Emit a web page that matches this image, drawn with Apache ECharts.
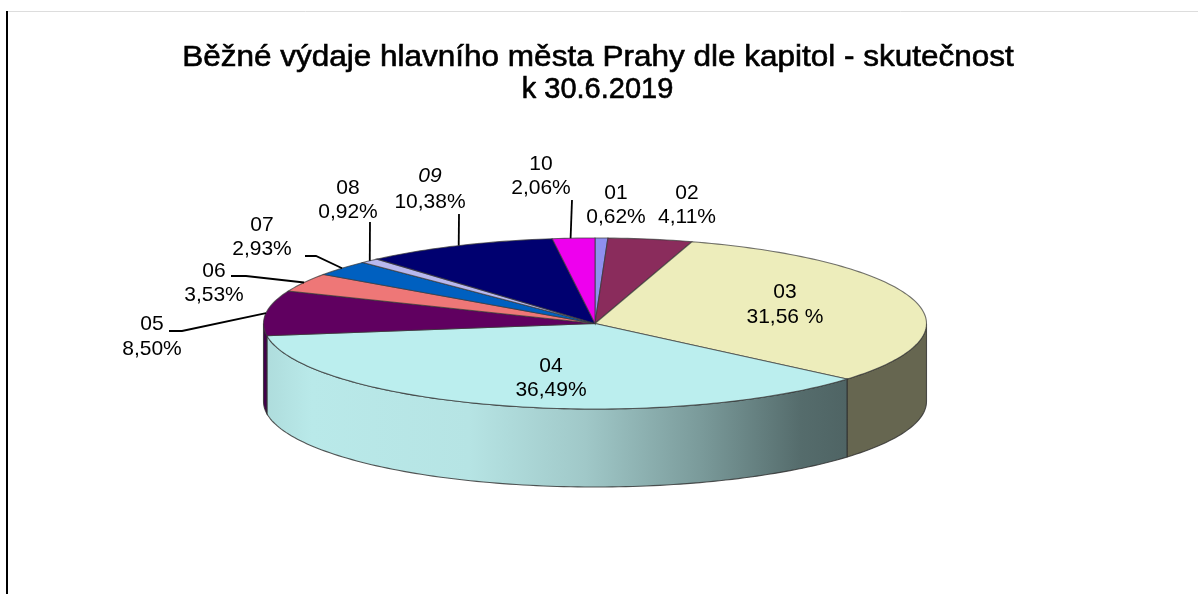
<!DOCTYPE html>
<html><head><meta charset="utf-8">
<style>html,body{margin:0;padding:0;background:#fff}#c{width:1198px;height:594px}</style>
<script src="https://cdn.jsdelivr.net/npm/echarts@6/dist/echarts.min.js"></script>
</head><body><div id="c"></div>
<script>
const codes = ['01','02','03','04','05','06','07','08','09','10'];
const sliceShares = [0.62,4.11,31.56,36.49,8.50,3.53,2.93,0.92,9.38,2.06];
const percentLabels = ['0,62%','4,11%','31,56 %','36,49%','8,50%','3,53%','2,93%','0,92%','10,38%','2,06%'];
const topColors = ['#8f8fef','#8a2c5c','#ededbb','#bbeeee','#600060','#ee7777','#0060c0','#b8b8ee','#000070','#ee00ee'];
const wallColors = ['#5a5a80','#4a2040','#666650','#789898','#42004a','#803a3a','#003a70','#606080','#000040','#800080'];
const titleLines = ['Běžné výdaje hlavního města Prahy dle kapitol - skutečnost','k 30.6.2019'];

// layout (page pixels)
const CX = 595, CY = 323.5, RX = 331.5, RY = 85.5, DEPTH = 78;
const labelCentres = [[616,193,217],[687,193,217],[785,292,317],[551,366,390],[152,324,349],
                      [214,271,295],[262,225,249],[348,188,212],[430,176,202],[541,164,188]];
// leader start and elbow; the far end is found on the rim from the slice's share
const leaders = {4:[[169,331],[182,331]],5:[[231,276],[246,276]],6:[[305,256],[316,256]],
                 7:[[370,222]],8:[[459,214]],9:[[572,200]]};
const leaderFraction = {9:0.43};

const total = sliceShares.reduce((a,b)=>a+b,0);
const FONT = '"Liberation Sans", Arial, sans-serif';
let run = 0;
const seriesData = sliceShares.map(v => { const row = [v, run]; run += v; return row; });
const wall04 = new echarts.graphic.LinearGradient(265,0,847,0,[
  {offset:0,color:'#aedcdc'},{offset:0.08,color:'#b9e9e9'},{offset:0.35,color:'#b6e4e4'},
  {offset:0.55,color:'#a0c8c8'},{offset:0.75,color:'#7a9a9a'},{offset:0.92,color:'#556c6c'},{offset:1,color:'#4f6464'}],true);

function renderItem(params, api){
  const i = params.dataIndex;
  const start = api.value(1), end = start + api.value(0);
  const rim = s => { const p = api.coord([1, s]); return [p[0], CY + (p[1]-CY)*RY/RX]; };
  const arc = (a,b) => { const n = Math.max(2, Math.ceil((b-a)*3)), o = [];
    for(let k=0;k<=n;k++) o.push(rim(a+(b-a)*k/n)); return o; };
  const children = [];
  const a = Math.max(start,total/4), b = Math.min(end,total*3/4);
  if(b>a){
    const up = arc(a,b), down = up.slice().reverse().map(p=>[p[0],p[1]+DEPTH]);
    children.push({type:'polygon',shape:{points:up.concat(down)},
      style:{fill:i===3?wall04:wallColors[i],stroke:'rgba(45,45,45,0.8)',lineWidth:1.1}});
  }
  children.push({type:'polygon',shape:{points:[[CX,CY]].concat(arc(start,end))},
    style:{fill:topColors[i],stroke:'rgba(55,55,55,0.7)',lineWidth:1.1}});
  return {type:'group',children};
}
function renderLabel(params, api){
  const i = params.dataIndex;
  const frac = leaderFraction[i] === undefined ? 0.5 : leaderFraction[i];
  const at = api.value(1) + api.value(0)*frac;
  const p = api.coord([1, at]);
  const end = [p[0], CY + (p[1]-CY)*RY/RX];
  const children = [];
  if(leaders[i]) children.push({type:'polyline',shape:{points:leaders[i].concat([end])},
    style:{fill:null,stroke:'#000',lineWidth:1.8}});
  const c = labelCentres[i];
  const txt = (t,y,st) => ({type:'text',style:{x:c[0],y,text:t,fill:'#000',
    font:(st||'')+' 21px '+FONT,textAlign:'center',textVerticalAlign:'middle'}});
  children.push(txt(codes[i],c[1],i===8?'italic':''), txt(percentLabels[i],c[2]));
  return {type:'group',children};
}
const titleStyle = t => ({text:t,fill:'#000',stroke:'#000',lineWidth:0.6,
  font:'29px '+FONT,textAlign:'center',textVerticalAlign:'middle'});
const chart = echarts.init(document.getElementById('c'),null,{renderer:'canvas'});
chart.setOption({
  animation:false, backgroundColor:'#fff',
  polar:{center:[CX,CY],radius:RX},
  angleAxis:{type:'value',min:0,max:total,startAngle:90,clockwise:true,show:false},
  radiusAxis:{type:'value',min:0,max:1,show:false},
  graphic:[
    {type:'line',shape:{x1:8,y1:11.5,x2:1198,y2:11.5},style:{stroke:'#dddddd',lineWidth:1}},
    {type:'line',shape:{x1:7,y1:11,x2:7,y2:594},style:{stroke:'#000',lineWidth:2}},
    {type:'text',x:598,y:58,scaleX:832/766,style:titleStyle(titleLines[0])},
    {type:'text',x:597.5,y:90,style:titleStyle(titleLines[1])}
  ],
  series:[
    {type:'custom',coordinateSystem:'polar',data:seriesData,encode:{radius:0,angle:1},renderItem,silent:true,clip:false,z:2},
    {type:'custom',coordinateSystem:'polar',data:seriesData,encode:{radius:0,angle:1},renderItem:renderLabel,silent:true,clip:false,z:3}
  ]
});
</script></body></html>
